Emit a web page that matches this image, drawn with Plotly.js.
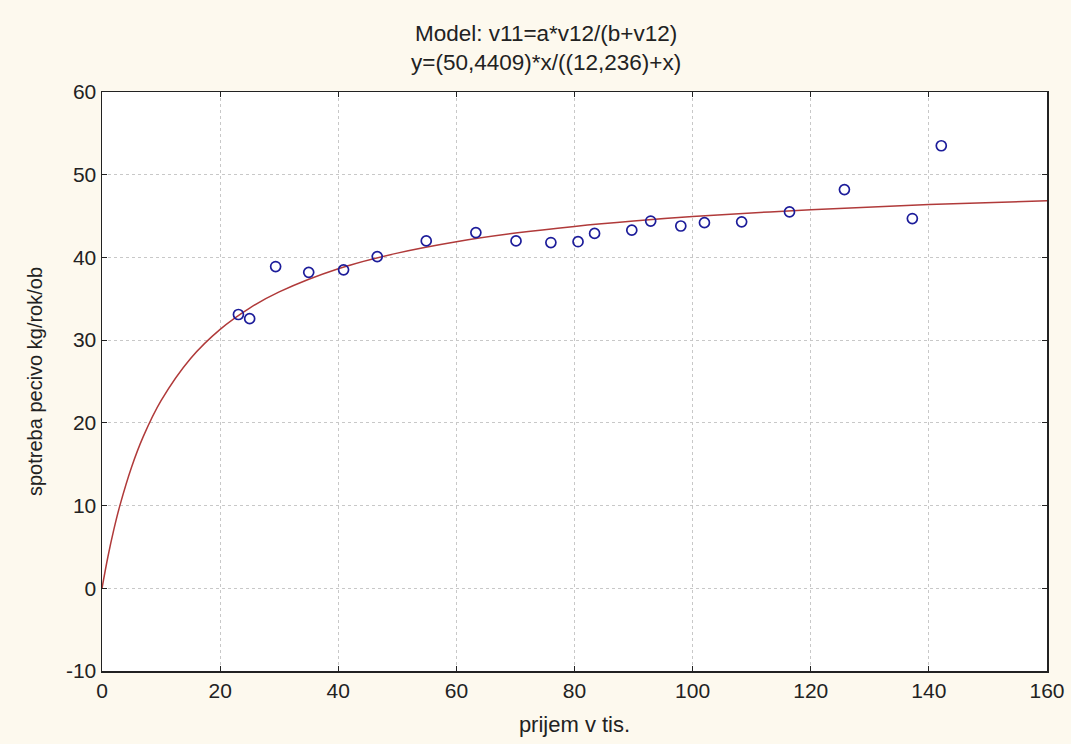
<!DOCTYPE html>
<html>
<head>
<meta charset="utf-8">
<script src="https://cdn.plot.ly/plotly-3.0.1.min.js"></script>
<style>html,body{margin:0;padding:0;background:#fdf9ee;}</style>
</head>
<body>
<div id="chart" style="width:1071px;height:744px;"></div>
<script>
// observed data points
const obsX = [23.1, 25.0, 29.4, 35.0, 40.9, 46.6, 54.9, 63.3, 70.1, 76.0, 80.6, 83.4, 89.7, 92.9, 98.0, 102.0, 108.3, 116.4, 125.7, 137.2, 142.1];
const obsY = [33.1, 32.6, 38.9, 38.2, 38.5, 40.1, 42.0, 43.0, 42.0, 41.8, 41.9, 42.9, 43.3, 44.4, 43.8, 44.2, 44.3, 45.5, 48.2, 44.7, 53.5];
// fitted curve
const fitX = [0, 1, 2, 3, 5, 7, 10, 15, 20, 25, 30, 40, 50, 60, 70, 80, 90, 100, 120, 140, 160];
const fitY = [0, 3.81, 7.09, 9.93, 14.63, 18.36, 22.68, 27.78, 31.30, 33.87, 35.83, 38.63, 40.52, 41.90, 42.94, 43.75, 44.40, 44.94, 45.77, 46.39, 46.86];
const xTicks = [0, 20, 40, 60, 80, 100, 120, 140, 160];
const yTicks = [-10, 0, 10, 20, 30, 40, 50, 60];
const yTickText = ['-10', '0', '10', '20', '30', '40', '50', '60'];
const titleLines = ['Model: v11=a*v12/(b+v12)', 'y=(50,4409)*x/((12,236)+x)'];

const font = 'Liberation Sans, Arial, sans-serif';
const traces = [
  {x: fitX, y: fitY, type: 'scatter', mode: 'lines', line: {color: '#b03a3a', width: 1.5, shape: 'spline'}, hoverinfo: 'skip'},
  {x: obsX, y: obsY, type: 'scatter', mode: 'markers', marker: {symbol: 'circle-open', size: 10, color: '#1c1c9a', line: {width: 1.7, color: '#1c1c9a'}}}
];
const axisCommon = {
  showline: true, linecolor: '#222', linewidth: 1.5, mirror: 'ticks',
  ticks: 'inside', ticklen: 5, tickcolor: '#222', tickwidth: 1.2,
  showgrid: true, gridcolor: '#c8c8c8', griddash: 'dot', gridwidth: 1,
  zeroline: false, tickfont: {family: font, size: 21, color: '#222'}
};
const layout = {
  width: 1071, height: 744,
  paper_bgcolor: '#fdf9ee', plot_bgcolor: '#ffffff',
  margin: {l: 102, r: 24, t: 92, b: 73},
  showlegend: false,
  annotations: [
    {text: titleLines[0], xref: 'paper', yref: 'paper', x: (546 - 102) / 945, y: 1, yshift: 59, xanchor: 'center', yanchor: 'middle', showarrow: false, font: {family: font, size: 22.5, color: '#222'}},
    {text: titleLines[1], xref: 'paper', yref: 'paper', x: (546 - 102) / 945, y: 1, yshift: 30, xanchor: 'center', yanchor: 'middle', showarrow: false, font: {family: font, size: 22.5, color: '#222'}}
  ],
  xaxis: Object.assign({}, axisCommon, {range: [0, 160], tickvals: xTicks, title: {text: 'prijem v tis.', font: {family: font, size: 22, color: '#222'}, standoff: 16}}),
  yaxis: Object.assign({}, axisCommon, {range: [-10, 60], tickvals: yTicks, ticktext: yTickText, title: {text: 'spotreba pecivo kg/rok/ob', font: {family: font, size: 20, color: '#222'}, standoff: 18}})
};
Plotly.newPlot('chart', traces, layout, {displayModeBar: false, staticPlot: true});
</script>
</body>
</html>
